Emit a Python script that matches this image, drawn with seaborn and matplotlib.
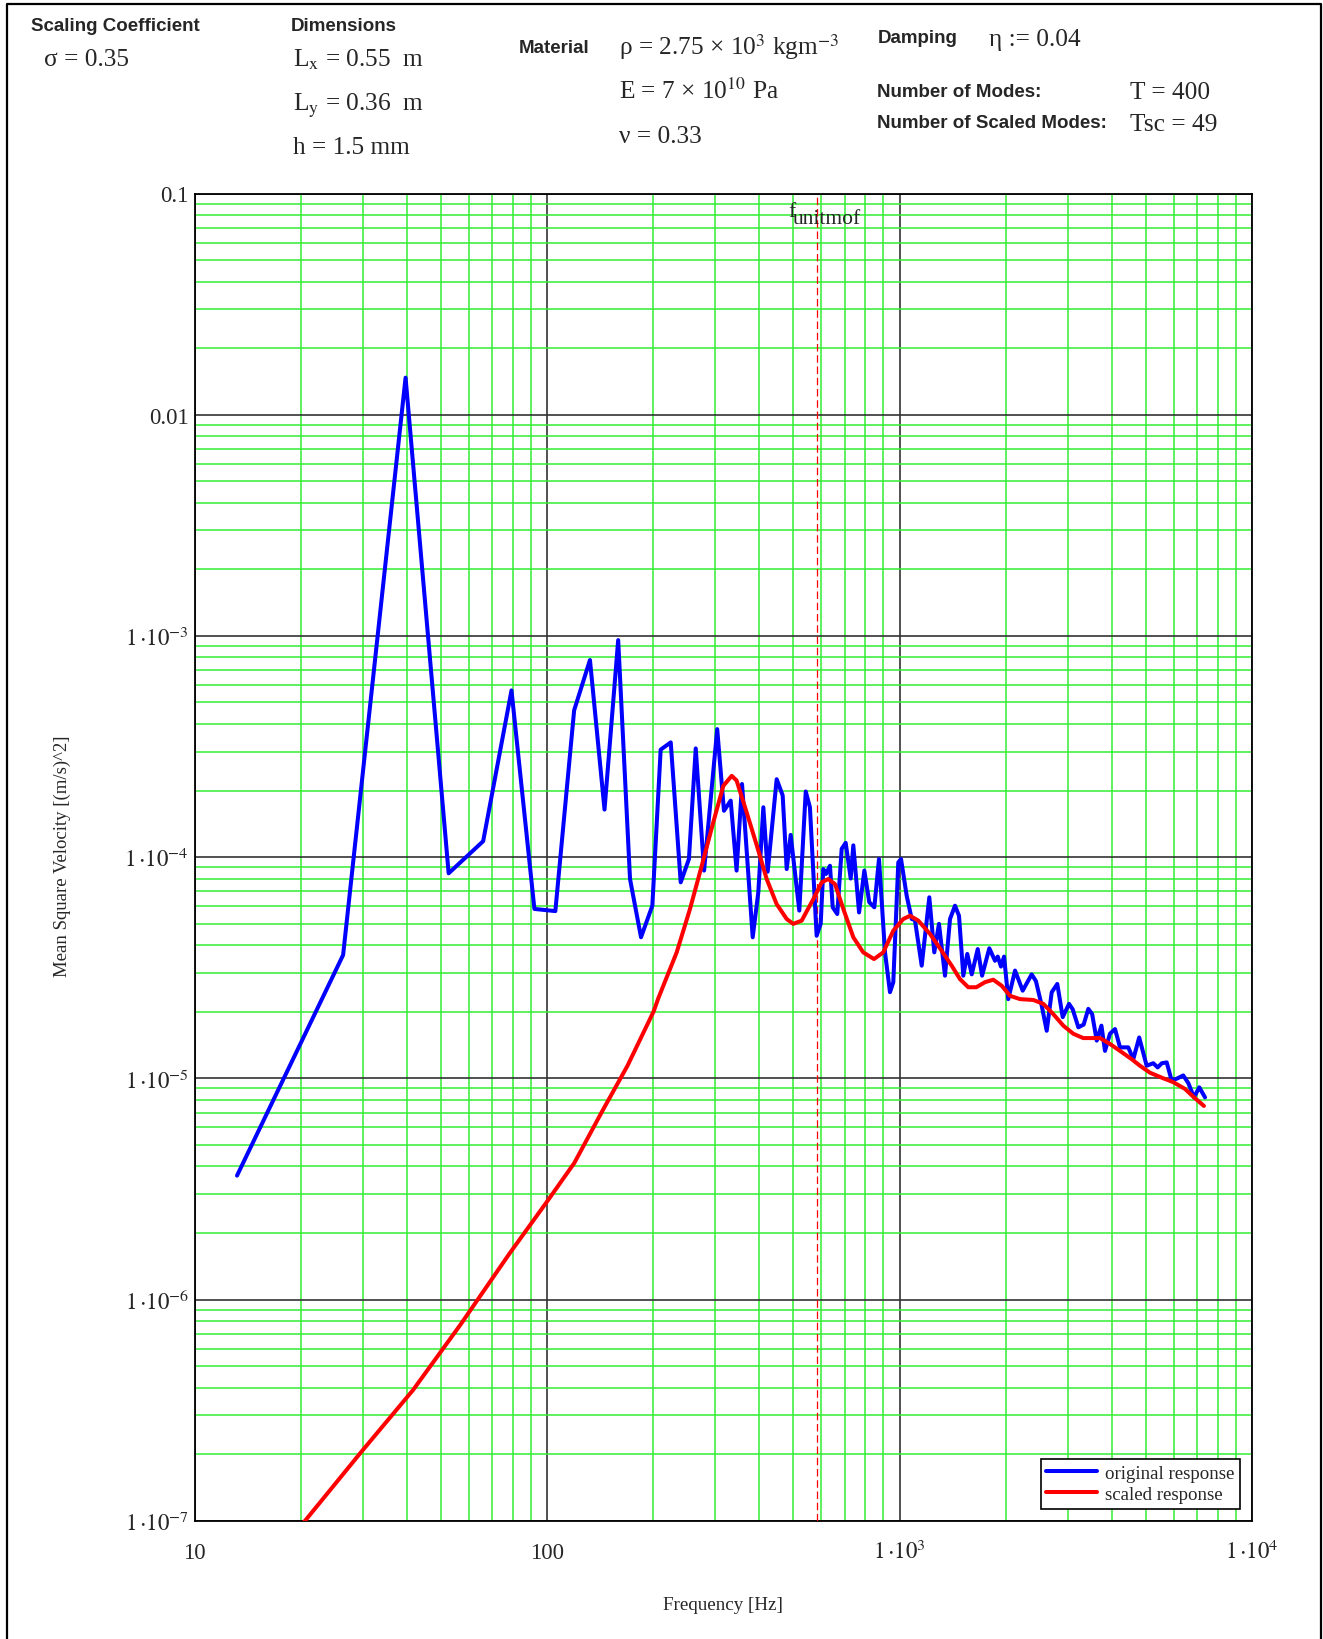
import numpy as np
import pandas as pd
import matplotlib
matplotlib.use("Agg")
import matplotlib.pyplot as plt
import seaborn as sns
from matplotlib.ticker import LogLocator, FixedLocator, NullFormatter
from matplotlib.lines import Line2D

# ---------------- data ----------------
freq_orig = [13.2, 26.4, 39.7, 52.6, 65.9, 79.3, 92.1, 105.6, 119.4, 132.4, 145.6, 159.2,
             172.0, 184.8, 199.0, 210.1, 224.4, 239.5, 252.7, 264.2, 279.0, 304.0, 317.7,
             332.0, 345.0, 357.5, 383.3, 397.6, 410.9, 422.7, 448.3, 466.2, 478.6, 491.2,
             519.7, 542.0, 557.0, 582.0, 597.6, 607.9, 618.7, 635.0, 646.4, 666.0, 685.5,
             703.6, 727.0, 739.6, 767.9, 794.8, 820.8, 848.4, 874.6, 909.7, 939.7, 960.3,
             992.2, 1010, 1048, 1083, 1106, 1156, 1215, 1255, 1294, 1346, 1391, 1437, 1475,
             1517, 1557, 1603, 1667, 1715, 1798, 1866, 1900, 1940, 1980, 2035, 2127, 2236,
             2371, 2438, 2532, 2616, 2703, 2803, 2904, 3026, 3100, 3217, 3330, 3433, 3520,
             3627, 3740, 3828, 3954, 4087, 4222, 4457, 4605, 4786, 5025, 5248, 5400, 5550,
             5728, 5918, 6150, 6382, 6600, 6846, 7087, 7357]
vel_orig = [3.63e-6, 3.61e-5, 1.47e-2, 8.45e-5, 1.18e-4, 5.67e-4, 5.83e-5, 5.7e-5, 4.61e-4,
            7.78e-4, 1.64e-4, 9.57e-4, 7.96e-5, 4.34e-5, 6.03e-5, 3.06e-4, 3.30e-4, 7.69e-5,
            9.8e-5, 3.10e-4, 8.69e-5, 3.79e-4, 1.62e-4, 1.80e-4, 8.69e-5, 2.14e-4, 4.34e-5,
            6.93e-5, 1.68e-4, 8.59e-5, 2.25e-4, 1.90e-4, 8.83e-5, 1.26e-4, 5.73e-5, 1.98e-4,
            1.68e-4, 4.41e-5, 4.99e-5, 8.83e-5, 8.39e-5, 9.14e-5, 5.93e-5, 5.53e-5, 1.09e-4,
            1.16e-4, 8.0e-5, 1.13e-4, 5.62e-5, 8.69e-5, 6.25e-5, 5.93e-5, 9.8e-5, 3.71e-5,
            2.45e-5, 2.72e-5, 9.47e-5, 9.8e-5, 6.69e-5, 5.25e-5, 5.2e-5, 3.23e-5, 6.58e-5,
            3.71e-5, 4.99e-5, 2.91e-5, 5.25e-5, 6.03e-5, 5.43e-5, 2.91e-5, 3.65e-5, 2.95e-5,
            3.84e-5, 2.91e-5, 3.87e-5, 3.40e-5, 3.55e-5, 3.2e-5, 3.55e-5, 2.28e-5, 3.07e-5,
            2.49e-5, 2.95e-5, 2.75e-5, 2.13e-5, 1.64e-5, 2.45e-5, 2.67e-5, 1.89e-5, 2.17e-5,
            2.05e-5, 1.70e-5, 1.75e-5, 2.06e-5, 1.95e-5, 1.48e-5, 1.73e-5, 1.33e-5, 1.59e-5,
            1.67e-5, 1.38e-5, 1.38e-5, 1.22e-5, 1.53e-5, 1.14e-5, 1.17e-5, 1.12e-5, 1.17e-5,
            1.18e-5, 9.76e-6, 1.0e-5, 1.03e-5, 9.5e-6, 8.2e-6, 9.1e-6, 8.2e-6]

freq_scaled = [13.2, 20.6, 29.6, 41.7, 56.7, 78.2, 100, 119.5, 142.6, 169.2, 200.8, 206.9,
               233.3, 254.5, 274.8, 296.4, 316.4, 334.2, 345.0, 368.6, 393.6, 420.0, 448.0,
               478.6, 499.5, 527.8, 569.6, 601.6, 628.0, 656.2, 692.9, 739.6, 789.0, 846.7,
               899.5, 960.3, 1025, 1071.5, 1131, 1221, 1317, 1406, 1484, 1567, 1652, 1748,
               1845, 1950, 2058, 2198, 2397, 2559, 2731, 2915, 3112, 3321, 3706, 3954, 4222,
               4557, 4810, 5135, 5603, 5983, 6457, 6846, 7306]
vel_scaled = [4.2e-8, 1.0e-7, 2.03e-7, 3.9e-7, 7.66e-7, 1.61e-6, 2.77e-6, 4.14e-6, 6.98e-6,
              1.14e-5, 2.01e-5, 2.30e-5, 3.71e-5, 5.83e-5, 9.14e-5, 1.44e-4, 2.10e-4, 2.33e-4,
              2.22e-4, 1.59e-4, 1.13e-4, 7.96e-5, 6.14e-5, 5.25e-5, 4.99e-5, 5.16e-5, 6.46e-5,
              7.69e-5, 7.96e-5, 7.55e-5, 5.83e-5, 4.34e-5, 3.71e-5, 3.46e-5, 3.71e-5, 4.65e-5,
              5.25e-5, 5.43e-5, 5.16e-5, 4.49e-5, 3.77e-5, 3.23e-5, 2.81e-5, 2.58e-5, 2.58e-5,
              2.72e-5, 2.79e-5, 2.62e-5, 2.36e-5, 2.28e-5, 2.26e-5, 2.17e-5, 1.95e-5, 1.73e-5,
              1.59e-5, 1.52e-5, 1.52e-5, 1.43e-5, 1.33e-5, 1.22e-5, 1.14e-5, 1.06e-5, 1.0e-5,
              9.6e-6, 8.95e-6, 8.2e-6, 7.5e-6]

f_unitmof = 582.0

xtick_vals = [10, 100, 1000, 10000]
xtick_labels = ["10", "100", r"$1\,{\cdot}10^{3}$", r"$1\,{\cdot}10^{4}$"]
ytick_vals = [0.1, 0.01, 1e-3, 1e-4, 1e-5, 1e-6, 1e-7]
ytick_labels = ["0.1", "0.01", r"$1\,{\cdot}10^{-3}$", r"$1\,{\cdot}10^{-4}$",
                r"$1\,{\cdot}10^{-5}$", r"$1\,{\cdot}10^{-6}$", r"$1\,{\cdot}10^{-7}$"]

# ---------------- style ----------------
sns.set_style("white")
plt.rcParams['font.family'] = ['Liberation Serif', 'DejaVu Serif']
plt.rcParams['mathtext.fontset'] = 'stix'

W, H = 1323, 1640
fig = plt.figure(figsize=(W / 100, H / 100), dpi=100)
L, R, T, B = 194.5, 1252.0, 194.5, 1521.7
ax = fig.add_axes([L / W, 1 - B / H, (R - L) / W, (B - T) / H])
ax.set_xscale('log')
ax.set_yscale('log')

df_o = pd.DataFrame({'Frequency': freq_orig, 'MSV': vel_orig})
df_s = pd.DataFrame({'Frequency': freq_scaled, 'MSV': vel_scaled})
sns.lineplot(data=df_o, x='Frequency', y='MSV', ax=ax, color='#0000ff', lw=2.9,
             label='original response', sort=False, estimator=None, zorder=5)
sns.lineplot(data=df_s, x='Frequency', y='MSV', ax=ax, color='#ff0000', lw=2.9,
             label='scaled response', sort=False, estimator=None, zorder=6)

ax.set_xlim(10, 1e4)
ax.set_ylim(1e-7, 0.1)

ax.xaxis.set_major_locator(FixedLocator(xtick_vals))
ax.set_xticklabels(xtick_labels)
ax.yaxis.set_major_locator(FixedLocator(ytick_vals))
ax.set_yticklabels(ytick_labels)
ax.xaxis.set_minor_locator(LogLocator(base=10, subs=np.arange(2, 10), numticks=100))
ax.yaxis.set_minor_locator(LogLocator(base=10, subs=np.arange(2, 10), numticks=100))
ax.xaxis.set_minor_formatter(NullFormatter())
ax.yaxis.set_minor_formatter(NullFormatter())

ax.tick_params(which='both', length=0)
ax.tick_params(axis='x', which='major', labelsize=16.5, pad=26.5)
ax.tick_params(axis='y', which='major', labelsize=16.5, pad=4.0)
for lab in ax.get_xticklabels():
    lab.set_va('baseline')

ax.set_axisbelow(True)
ax.grid(which='minor', color='#33ee33', lw=1.1)
ax.grid(which='major', color='#333333', lw=1.2)
for sp in ax.spines.values():
    sp.set_color('black')
    sp.set_linewidth(1.3)
    sp.set_visible(True)

ax.axvline(f_unitmof, color='#ff0000', lw=0.9, ls=(0, (6, 3)), zorder=3)
ax.annotate('f', xy=(f_unitmof, 1), xycoords=('data', 'axes fraction'),
            xytext=(-20.7, -16), textcoords='offset points', ha='left', va='baseline',
            fontsize=15.5)
ax.annotate('unitmof', xy=(f_unitmof, 1), xycoords=('data', 'axes fraction'),
            xytext=(-17.3, -21.2), textcoords='offset points', ha='left', va='baseline',
            fontsize=15.5)

ax.set_xlabel('Frequency [Hz]', fontsize=13.7)
ax.set_ylabel('Mean Square Velocity [(m/s)^2]', fontsize=13.5)
ax.xaxis.set_label_coords(0.5, -(1597 - B) / (B - T))
ax.yaxis.set_label_coords((71 - L) / (R - L), 1 - (856 - T) / (B - T))

leg = ax.legend(loc='lower right', bbox_to_anchor=(1 - 12 / (R - L), 12 / (B - T)),
                borderaxespad=0, fontsize=13.6, frameon=True, fancybox=False,
                framealpha=1, edgecolor='black', handlelength=2.7, handletextpad=0.4,
                borderpad=0.3, labelspacing=0.22)
leg.get_frame().set_linewidth(1.2)

# ---------------- header ----------------
def ftxt(x, y, s, **kw):
    fig.text(x / W, 1 - y / H, s, ha='left', va='baseline', **kw)

bold = dict(family=['Liberation Sans', 'DejaVu Sans'], fontweight='bold', fontsize=13.5)
serif = dict(fontsize=18.3)

ftxt(31, 31, 'Scaling Coefficient', **bold)
ftxt(44, 65.5, 'σ = 0.35', **serif)
ftxt(290.7, 31, 'Dimensions', **bold)
ftxt(292.8, 66.5, r'L$_\mathrm{x}$ = 0.55  m', **serif)
ftxt(292.8, 110.5, r'L$_\mathrm{y}$ = 0.36  m', **serif)
ftxt(292.8, 154.4, 'h = 1.5 mm', **serif)
ftxt(518.7, 53, 'Material', **bold)
ftxt(619, 55, r'ρ = 2.75 × 10$^{3}$ kgm$^{-3}$', **serif)
ftxt(619, 99, r'E = 7 × 10$^{10}$ Pa', **serif)
ftxt(619, 143, 'ν = 0.33', **serif)
ftxt(877.4, 42.6, 'Damping', **bold)
ftxt(989, 45.6, 'η := 0.04', **serif)
ftxt(877.4, 97, 'Number of Modes:', **bold)
ftxt(1130.5, 99, 'T = 400', **serif)
ftxt(877.4, 128.4, 'Number of Scaled Modes:', **bold)
ftxt(1130.5, 131.4, 'Tsc = 49', **serif)

# figure border (left, top, right)
bx0, bx1, by0 = 6.5 / W, 1320.5 / W, 1 - 4.5 / H
fig.add_artist(Line2D([bx0, bx0, bx1, bx1], [0, by0, by0, 0], transform=fig.transFigure,
                      color='black', lw=1.6))

fig.savefig('out.png', dpi=100)
